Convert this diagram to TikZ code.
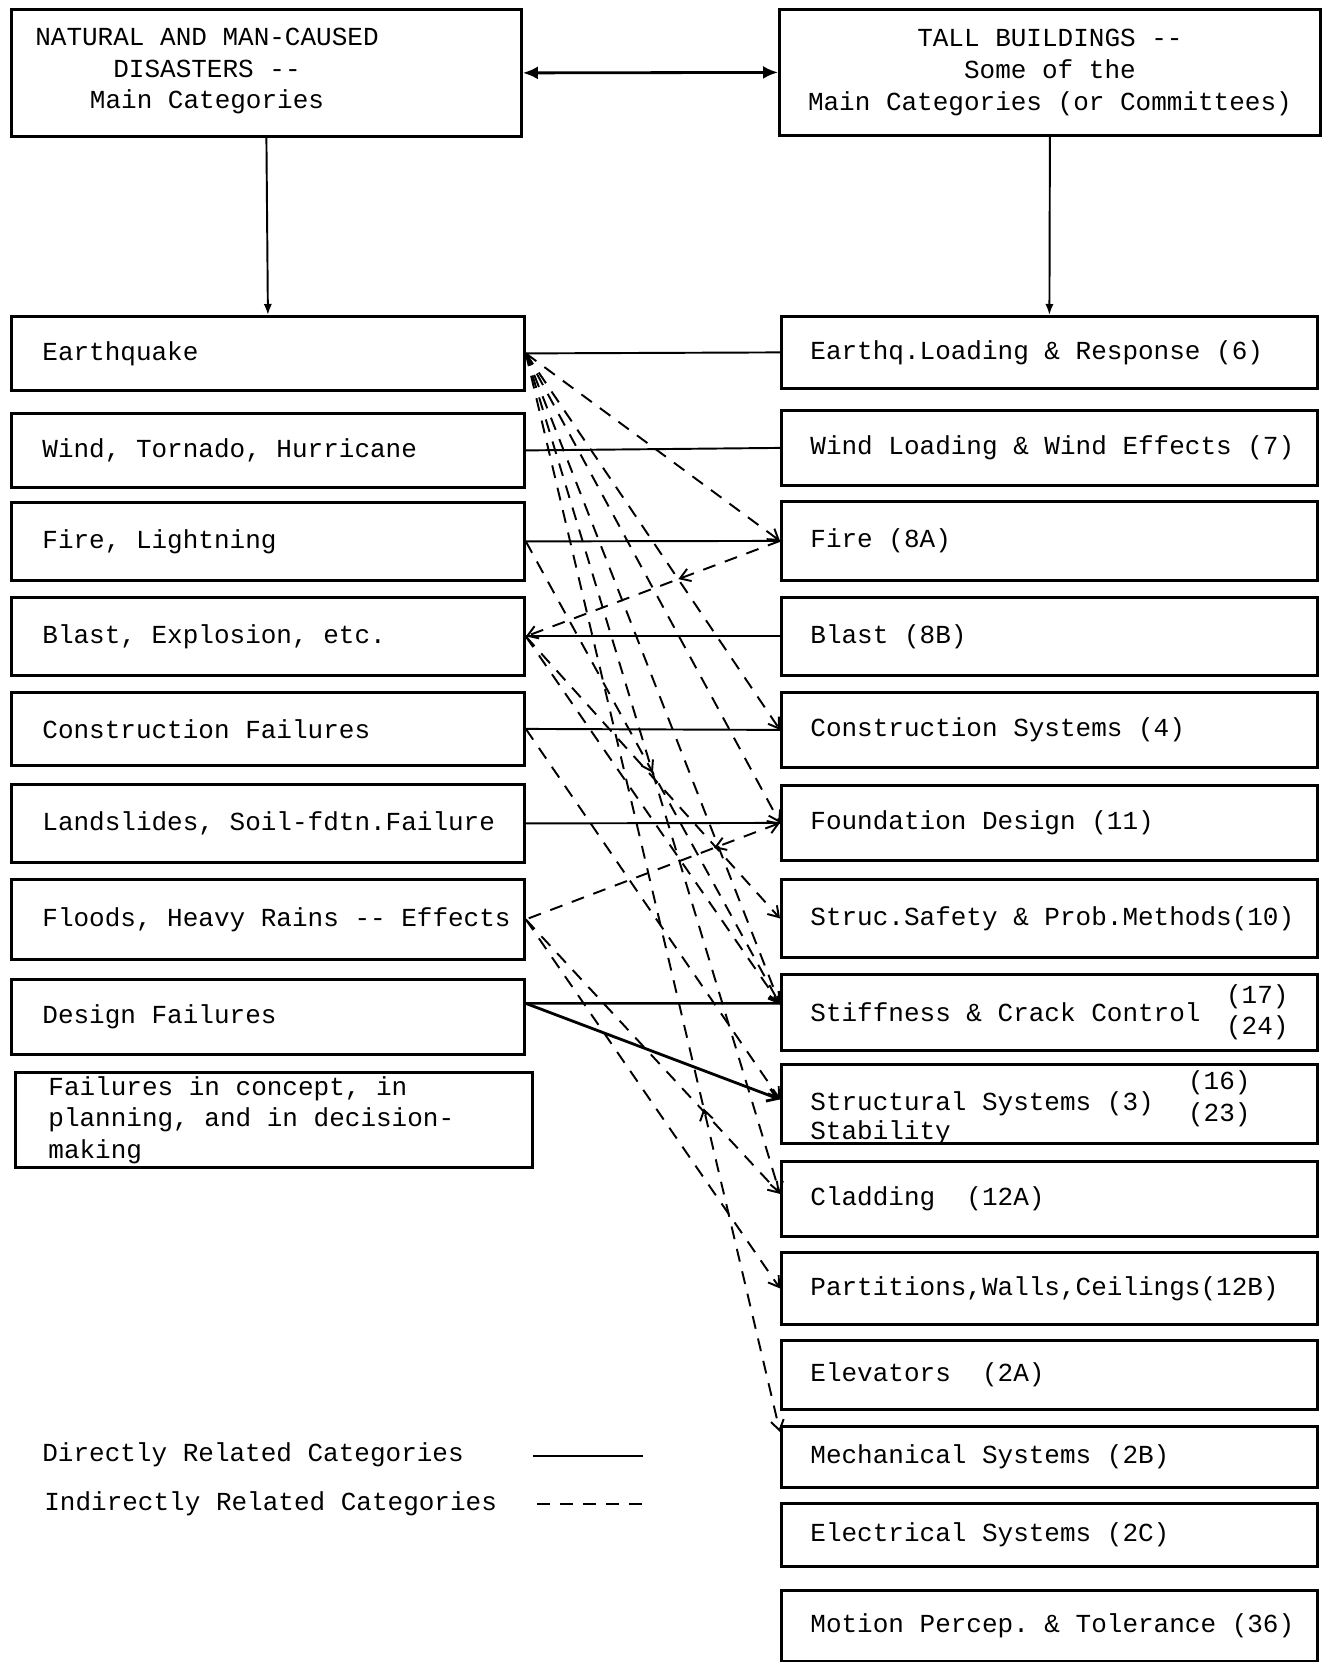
\documentclass[tikz,border=0pt]{standalone}
\usepackage{fontspec}
\setmonofont{Liberation Mono}
\usetikzlibrary{arrows.meta,calc,decorations.markings}
\newcommand{\twfont}{\ttfamily\fontsize{14.8}{18}\selectfont}
\newcommand{\twspace}{\spaceskip=0.6em\relax\xspaceskip=0.6em\relax}
\tikzset{
  catbox/.style={rectangle, draw, line width=1.6pt, anchor=north west, align=left,
                 font=\twfont, inner ysep=1pt, execute at begin node=\twspace},
  disbox/.style={catbox, text width=90.2mm, inner xsep=6.2mm, minimum height=#1},
  tbbox/.style={catbox, text width=95.6mm, inner xsep=5.8mm, minimum height=#1},
  ttlbox/.style={rectangle, draw, line width=1.6pt, anchor=north west, font=\twfont},
  txt/.style={font=\twfont, inner sep=0pt},
  rel/.style={line width=1.1pt},
  indrel/.style={line width=1.1pt, dash pattern=on 2.6mm off 2mm},
  tip/.style={-{Straight Barb[length=2mm,width=2.6mm]}},
  midtip/.style={postaction={decorate, decoration={markings,
                 mark=at position #1 with {\arrow{Straight Barb[length=2mm,width=2.6mm]}}}}},
  midtipr/.style={postaction={decorate, decoration={markings,
                 mark=at position #1 with {\arrowreversed{Straight Barb[length=2mm,width=2.6mm]}}}}},
}

\begin{document}
\begin{tikzpicture}[x=0.2mm, y=-0.2mm]
  \useasboundingbox (0,0) rectangle (1324,1662);

  % main headings
  \node[ttlbox, minimum width=102mm, minimum height=25.4mm] (dis) at (10,8) {};
  \node[txt, align=center] (distxt) at (207,71) {NATURAL AND MAN-CAUSED\\DISASTERS --\\Main Categories};
  \node[ttlbox, minimum width=108.2mm, minimum height=25.2mm, align=center] (tb) at (778,8)
       {TALL BUILDINGS --\\Some of the\\Main Categories (or Committees)};

  % disasters
  \node[disbox=14.8mm] (eq) at (10,315) {Earthquake};
  \node[disbox=14.8mm] (wnd) at (10,412) {Wind, Tornado, Hurricane};
  \node[disbox=15.6mm] (fir) at (10,501) {Fire, Lightning};
  \node[disbox=15.6mm] (bla) at (10,596) {Blast, Explosion, etc.};
  \node[disbox=14.6mm] (cof) at (10,691) {Construction Failures};
  \node[disbox=15.6mm] (lsl) at (10,783) {\mbox{Landslides, Soil-fdtn.Failure}};
  \node[disbox=16mm] (fld) at (10,878) {\mbox{Floods, Heavy Rains -- Effects}};
  \node[disbox=15mm] (dsg) at (10,978) {Design Failures};
  \node[disbox=19mm, inner xsep=6.6mm] (fcp) at (14,1071) {Failures in concept, in\\planning, and in decision-\\making};

  % tall building committees
  \node[tbbox=14.4mm] (eql) at (780,315) {\mbox{Earthq.Loading \& Response (6)}};
  \node[tbbox=15mm] (wdl) at (780,409) {\mbox{Wind Loading \& Wind Effects (7)}};
  \node[tbbox=15.8mm] (fa) at (780,500) {Fire (8A)};
  \node[tbbox=15.6mm] (bb) at (780,596) {Blast (8B)};
  \node[tbbox=15mm] (cst) at (780,691) {Construction Systems (4)};
  \node[tbbox=15mm] (fdn) at (780,784) {Foundation Design (11)};
  \node[tbbox=15.6mm] (sps) at (780,878) {\mbox{Struc.Safety \& Prob.Methods(10)}};
  \node[tbbox=15.2mm] (stf) at (780,973) {Stiffness \& Crack Control};
  \node[tbbox=15.8mm] (sts) at (780,1063) {Structural Systems (3)};
  \node[tbbox=15mm] (cld) at (780,1160) {Cladding~~(12A)};
  \node[tbbox=14.4mm] (ptn) at (780,1251) {Partitions,Walls,Ceilings(12B)};
  \node[tbbox=13.8mm] (elv) at (780,1339) {Elevators~~(2A)};
  \node[tbbox=12.2mm] (mec) at (780,1425) {Mechanical Systems (2B)};
  \node[tbbox=12.6mm] (elc) at (780,1502) {Electrical Systems (2C)};
  \node[tbbox=14.2mm] (mtn) at (780,1589) {\mbox{Motion Percep. \& Tolerance (36)}};

  \node[txt, align=center, anchor=east] (stfno) at ([xshift=-6mm]stf.east) {(17)\\(24)};
  \node[txt, align=center, anchor=east] (stsno) at ([xshift=-13.6mm, yshift=1mm]sts.east) {(16)\\(23)};
  \node[txt, anchor=base west] (stab) at (810,1139) {Stability};

  % heading links
  \draw[line width=1.6pt, {Latex[length=3mm,width=2.6mm]}-{Latex[length=3mm,width=2.6mm]}] (dis.east) -- (tb.west);
  \draw[rel, -{Latex[length=2.2mm]}] (dis.south) -- (eq.north);
  \draw[rel, -{Latex[length=2.2mm]}] (tb.south) -- (eql.north);

  % directly related
  \draw[rel] (eq.east) -- (eql.west);
  \draw[rel] (wnd.east) -- (wdl.west);
  \draw[rel] (fir.east) -- (fa.west);
  \draw[rel] (bla.east) -- (bb.west);
  \draw[rel] (cof.east) -- (cst.west);
  \draw[rel] (lsl.east) -- (fdn.west);
  \draw[rel, line width=1.4pt] ([yshift=2.7mm]dsg.east) -- ([yshift=1.8mm]stf.west);
  \draw[rel, line width=1.6pt, tip] ([yshift=2.7mm]dsg.east) -- ([yshift=0.9mm]sts.west);

  % indirectly related
  \draw[indrel, tip] (eq.east) -- (fa.west);
  \draw[indrel, tip] (eq.east) -- (cst.west);
  \draw[indrel, tip] (eq.east) -- (fdn.west);
  \draw[indrel, tip] (eq.east) -- ([yshift=1.6mm]stf.west);
  \draw[indrel, tip] (eq.east) -- ([yshift=1mm]cld.west);
  \draw[indrel, tip, midtipr=0.7] (eq.east) -- ([yshift=-1.4mm]mec.north west);
  \draw[indrel, tip, midtip=0.4] (fa.west) -- (bla.east);
  \draw[indrel, tip, midtip=0.5] (fir.east) -- ([yshift=1.6mm]stf.west);
  \draw[indrel, tip] (bla.east) -- (sps.west);
  \draw[indrel, tip] (bla.east) -- ([yshift=1.6mm]stf.west);
  \draw[indrel, tip] (cof.east) -- ([yshift=0.9mm]sts.west);
  \draw[indrel, tip, midtip=0.26, {Straight Barb[length=2mm,width=2.6mm]}-] (fdn.west) -- (fld.east);
  \draw[indrel, tip] (fld.east) -- ([yshift=1mm]cld.west);
  \draw[indrel, tip] (fld.east) -- (ptn.west);

  % key
  \node[txt, anchor=west] (dlg) at (42,1455) {Directly Related Categories};
  \node[txt, anchor=west] (ilg) at (44,1504) {Indirectly Related Categories};
  \coordinate (dla) at (533,1456);
  \coordinate (dlb) at (643,1456);
  \coordinate (ila) at (537,1504);
  \coordinate (ilb) at (643,1504);
  \draw[rel] (dla) -- (dlb);
  \draw[indrel] (ila) -- (ilb);
\end{tikzpicture}
\end{document}
